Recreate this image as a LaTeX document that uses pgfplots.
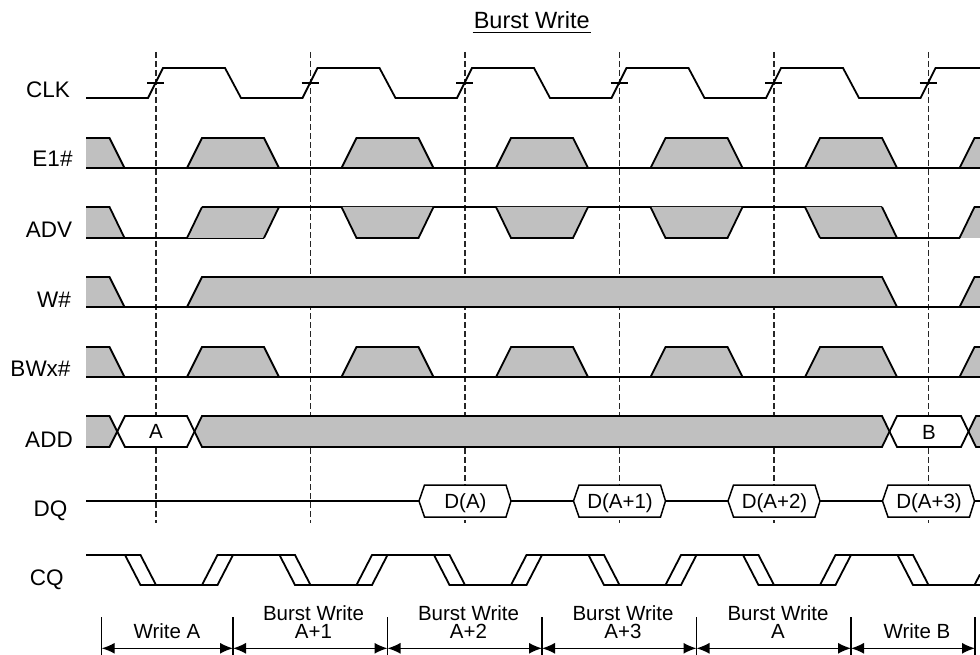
\documentclass[border=0pt]{standalone}
\usepackage{pgfplots}
\pgfplotsset{compat=1.18}
\usepackage{fontspec}
\setmainfont{Liberation Sans}
\usetikzlibrary{arrows.meta}
\definecolor{dcare}{HTML}{C0C0C0}
\tikzset{
  sig/.style={black, line width=1.8pt},
  gf/.style={fill=dcare, draw=none},
  dsh/.style={black!85, line width=1.1pt, dash pattern=on 6pt off 3pt},
  ann/.style={black, line width=1.1pt},
  arr/.style={black, line width=1.4pt, {Latex[length=13pt,width=11pt]}-{Latex[length=13pt,width=11pt]}},
  lab/.style={font=\fontsize{22.5}{26}\selectfont, anchor=base, inner sep=0pt},
  blab/.style={font=\fontsize{20.5}{24}\selectfont, anchor=base, inner sep=0pt},
}
% fill + outline of a 4-point transition shape
\newcommand\pulse[6]{%
  \addplot[gf] coordinates {(#1,#6)(#2,#5)(#3,#5)(#4,#6)};
  \addplot[sig] coordinates {(#1,#6)(#2,#5)(#3,#5)(#4,#6)};}
\newcommand\ini[2]{%
  \addplot[gf] coordinates {(86,#1)(109.5,#1)(124.5,#2)(86,#2)};
  \addplot[sig] coordinates {(86,#1)(109.5,#1)(124.5,#2)};}
\newcommand\fin[2]{%
  \addplot[gf] coordinates {(959.5,#2)(974.5,#1)(980,#1)(980,#2)};
  \addplot[sig] coordinates {(959.5,#2)(974.5,#1)(980,#1)};}
\begin{document}
\begin{tikzpicture}
\begin{axis}[name=ax, width=980pt, height=655pt, scale only axis,
  xmin=0, xmax=980, ymin=0, ymax=655, y dir=reverse, hide axis, clip=false]
% dashed clock reference lines
\addplot[dsh] coordinates {(156,52)(156,523)};
\addplot[dsh] coordinates {(310.5,52)(310.5,523)};
\addplot[dsh] coordinates {(465,52)(465,523)};
\addplot[dsh] coordinates {(619.5,52)(619.5,523)};
\addplot[dsh] coordinates {(774,52)(774,523)};
\addplot[dsh] coordinates {(928.5,52)(928.5,523)};

% CLK
\addplot[sig] coordinates {(86,98)(148,98)(163,68)(225,68)(241,98)(302.5,98)(317.5,68)(379.5,68)(395.5,98)
 (457,98)(472,68)(534,68)(550,98)(611.5,98)(626.5,68)(688.5,68)(704.5,98)(766,98)(781,68)(843,68)(859,98)
 (920.5,98)(935.5,68)(980,68)};
\addplot[black, line width=1.4pt] coordinates {(147,83)(164,83)};
\addplot[black, line width=1.4pt] coordinates {(301.5,83)(318.5,83)};
\addplot[black, line width=1.4pt] coordinates {(456,83)(473,83)};
\addplot[black, line width=1.4pt] coordinates {(610.5,83)(627.5,83)};
\addplot[black, line width=1.4pt] coordinates {(765,83)(782,83)};
\addplot[black, line width=1.4pt] coordinates {(919.5,83)(936.5,83)};

% E1#
\ini{138}{168}
\pulse{187}{202}{264}{279}{138}{168}
\pulse{341.5}{356.5}{418.5}{433.5}{138}{168}
\pulse{496}{511}{573}{588}{138}{168}
\pulse{650.5}{665.5}{727.5}{742.5}{138}{168}
\pulse{805}{820}{882}{897}{138}{168}
\fin{138}{168}
\addplot[sig] coordinates {(86,168)(980,168)};

% ADV
\ini{207}{238}
\addplot[sig] coordinates {(86,238)(264,238)};
\addplot[gf] coordinates {(187,238)(202,207)(279,207)(264,238)};
\addplot[sig] coordinates {(187,238)(202,207)};
\addplot[sig] coordinates {(264,238)(279,207)};
\addplot[sig] coordinates {(202,207)(882,207)};
\pulse{341.5}{356.5}{418.5}{433.5}{238}{207}
\pulse{496}{511}{573}{588}{238}{207}
\pulse{650.5}{665.5}{727.5}{742.5}{238}{207}
\addplot[gf] coordinates {(805,207)(820,238)(897,238)(882,207)};
\addplot[sig] coordinates {(805,207)(820,238)};
\addplot[sig] coordinates {(882,207)(897,238)};
\fin{207}{238}
\addplot[sig] coordinates {(820,238)(959.5,238)};

% W#
\ini{277}{307}
\pulse{187}{202}{882}{897}{277}{307}
\fin{277}{307}
\addplot[sig] coordinates {(86,307)(980,307)};

% BWx#
\ini{347}{377}
\pulse{187}{202}{264}{279}{347}{377}
\pulse{341.5}{356.5}{418.5}{433.5}{347}{377}
\pulse{496}{511}{573}{588}{347}{377}
\pulse{650.5}{665.5}{727.5}{742.5}{347}{377}
\pulse{805}{820}{882}{897}{347}{377}
\fin{347}{377}
\addplot[sig] coordinates {(86,377)(980,377)};

% ADD bus
\addplot[gf] coordinates {(86,416)(109.5,416)(117.25,431.5)(109.5,447)(86,447)};
\addplot[fill=white, draw=none] coordinates {(117.25,431.5)(125,416)(187,416)(194.5,431.5)(187,447)(125,447)};
\addplot[gf] coordinates {(194.5,431.5)(202,416)(882,416)(889.5,431.5)(882,447)(202,447)};
\addplot[fill=white, draw=none] coordinates {(889.5,431.5)(897,416)(961,416)(968.5,431.5)(961,447)(897,447)};
\addplot[gf] coordinates {(968.5,431.5)(976,416)(980,416)(980,447)(976,447)};
\addplot[sig] coordinates {(86,416)(109.5,416)(125,447)(187,447)(202,416)(882,416)(897,447)(961,447)(976,416)(980,416)};
\addplot[sig] coordinates {(86,447)(109.5,447)(125,416)(187,416)(202,447)(882,447)(897,416)(961,416)(976,447)(980,447)};
\node[blab] at (axis cs:156,438.5) {A};
\node[blab] at (axis cs:929,439) {B};

% DQ
\addplot[black, line width=1.3pt] coordinates {(86,501)(419,501)};
\addplot[black, line width=1.3pt] coordinates {(511,501)(573.5,501)};
\addplot[black, line width=1.3pt] coordinates {(665.5,501)(728,501)};
\addplot[black, line width=1.3pt] coordinates {(820,501)(882.5,501)};
\addplot[black, line width=1.3pt] coordinates {(974.5,501)(980,501)};
\addplot[black, fill=white, line width=1.5pt] coordinates {(419,501)(424.5,485)(506,485)(511,501)(506,517)(424.5,517)} -- cycle;
\addplot[black, fill=white, line width=1.5pt] coordinates {(573.5,501)(579,485)(660.5,485)(665.5,501)(660.5,517)(579,517)} -- cycle;
\addplot[black, fill=white, line width=1.5pt] coordinates {(728,501)(733.5,485)(815,485)(820,501)(815,517)(733.5,517)} -- cycle;
\addplot[black, fill=white, line width=1.5pt] coordinates {(882.5,501)(888,485)(969.5,485)(974.5,501)(969.5,517)(888,517)} -- cycle;
\node[blab] at (axis cs:465.5,508) {D(A)};
\node[blab] at (axis cs:620,508) {D(A+1)};
\node[blab] at (axis cs:774.5,508) {D(A+2)};
\node[blab] at (axis cs:929,508) {D(A+3)};

% CQ
\addplot[sig] coordinates {(86,555)(125,555)(140.5,585)(202,585)(217.5,555)(279.5,555)(295,585)(356.5,585)(372,555)
 (434,555)(449.5,585)(511,585)(526.5,555)(588.5,555)(604,585)(665.5,585)(681,555)(743,555)(758.5,585)(820,585)
 (835.5,555)(897.5,555)(913,585)(974.5,585)(980,574.4)};
\addplot[sig] coordinates {(86,555)(140.5,555)(156,585)(217.5,585)(233,555)(295,555)(310.5,585)(372,585)(387.5,555)
 (449.5,555)(465,585)(526.5,585)(542,555)(604,555)(619.5,585)(681,585)(696.5,555)(758.5,555)(774,585)(835.5,585)
 (851,555)(913,555)(928.5,585)(980,585)};

% signal names
\node[lab] at (axis cs:48,97.5) {CLK};
\node[lab] at (axis cs:52.5,167) {E1\#};
\node[lab] at (axis cs:49,237) {ADV};
\node[lab] at (axis cs:54,307) {W\#};
\node[lab] at (axis cs:40.5,376.5) {BWx\#};
\node[lab] at (axis cs:49,447) {ADD};
\node[lab] at (axis cs:50.5,516.5) {DQ};
\node[lab] at (axis cs:46.7,585) {CQ};

% title
\node[font=\fontsize{23.5}{28}\selectfont, anchor=base, inner sep=0pt] at (axis cs:531.7,28.3) {Burst Write};
\addplot[black, line width=1.7pt] coordinates {(472.7,32.5)(590.7,32.5)};

% bottom operation annotations
\addplot[ann] coordinates {(101.7,617)(101.7,655)};
\addplot[ann] coordinates {(233,617)(233,655)};
\addplot[ann] coordinates {(387.5,617)(387.5,655)};
\addplot[ann] coordinates {(542,617)(542,655)};
\addplot[ann] coordinates {(696.5,617)(696.5,655)};
\addplot[ann] coordinates {(851,617)(851,655)};
\addplot[ann] coordinates {(975,617)(975,655)};
\addplot[arr] coordinates {(101.7,648.3)(233,648.3)};
\addplot[arr] coordinates {(233,648.3)(387.5,648.3)};
\addplot[arr] coordinates {(387.5,648.3)(542,648.3)};
\addplot[arr] coordinates {(542,648.3)(696.5,648.3)};
\addplot[arr] coordinates {(696.5,648.3)(851,648.3)};
\addplot[arr] coordinates {(851,648.3)(975,648.3)};
\node[blab] at (axis cs:167,638.5) {Write A};
\node[blab] at (axis cs:313.5,620) {Burst Write};
\node[blab] at (axis cs:313.5,638.5) {A+1};
\node[blab] at (axis cs:468.5,620) {Burst Write};
\node[blab] at (axis cs:468.5,638.5) {A+2};
\node[blab] at (axis cs:623,620) {Burst Write};
\node[blab] at (axis cs:623,638.5) {A+3};
\node[blab] at (axis cs:778,620) {Burst Write};
\node[blab] at (axis cs:778,638.5) {A};
\node[blab] at (axis cs:917,638.5) {Write B};
\end{axis}
\pgfresetboundingbox
\path (ax.south west) rectangle (ax.north east);
\end{tikzpicture}
\end{document}
